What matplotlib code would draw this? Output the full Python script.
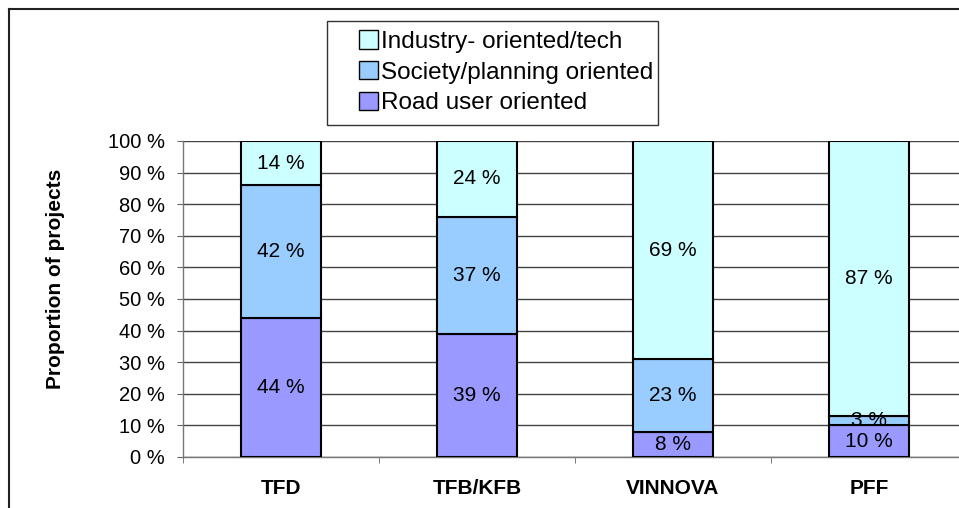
import numpy as np
import matplotlib.pyplot as plt
from matplotlib.lines import Line2D
from matplotlib.patches import Rectangle

plt.rcParams['font.family'] = ['Liberation Sans', 'DejaVu Sans']

categories = ['TFD', 'TFB/KFB', 'VINNOVA', 'PFF']
road = [44, 39, 8, 10]
society = [42, 37, 23, 3]
industry = [14, 24, 69, 87]
series_names = ['Road user oriented', 'Society/planning oriented', 'Industry- oriented/tech']
colors = ['#9999FF', '#99CCFF', '#CCFFFF']

W, H = 959, 508
fig = plt.figure(figsize=(W/100, H/100), dpi=100)
ax = fig.add_axes([183/W, 1-457/H, 784/W, 316/H])

x = np.arange(len(categories))
bottom = np.zeros(len(categories))
bars = []
for vals, name, c in zip([road, society, industry], series_names, colors):
    b = ax.bar(x, vals, 0.41, bottom=bottom, color=c, edgecolor='black',
               linewidth=1.5, label=name, zorder=3)
    for xi, v, bt in zip(x, vals, bottom):
        ax.text(xi, bt + v/2, f'{v} %', ha='center', va='center', fontsize=15, zorder=4)
    bottom += np.array(vals)
    bars.append(b)

ax.set_xlim(-0.5, 3.5)
ax.set_ylim(0, 100)
ax.set_yticks(np.arange(0, 101, 10))
ax.set_yticklabels([f'{v} %' for v in range(0, 101, 10)], fontsize=14.5)
ax.yaxis.grid(True, color='#444444', linewidth=1, zorder=0)
ax.set_xticks(x)
ax.set_xticklabels(categories, fontsize=15, fontweight='bold')
ax.set_xticks(np.arange(-0.5, 4, 1), minor=True)
ax.tick_params(axis='x', which='major', length=0, pad=15.5)
ax.tick_params(axis='x', which='minor', length=4, direction='out', color='#666666')
ax.tick_params(axis='y', length=4.3, direction='out', color='#666666', pad=9)
ax.set_ylabel('Proportion of projects', fontsize=15, fontweight='bold')
ax.yaxis.set_label_coords(-0.15, 0.565)
for s in ['top', 'right']:
    ax.spines[s].set_visible(False)
for s in ['left', 'bottom']:
    ax.spines[s].set_color('#777777')
    ax.spines[s].set_linewidth(1)

leg = fig.legend([bars[2], bars[1], bars[0]],
                 [series_names[2], series_names[1], series_names[0]],
                 loc='upper left', bbox_to_anchor=(359/W, 1-30/H),
                 fontsize=17.5, frameon=False, borderpad=0, borderaxespad=0,
                 handlelength=0.8, handleheight=0.8, handletextpad=0.1,
                 labelspacing=0.33)
for h in leg.legend_handles:
    h.set_linewidth(1)
fig.add_artist(Rectangle((327/W, 1-125/H), 331/W, 104/H, transform=fig.transFigure,
                         fill=False, edgecolor='#333333', linewidth=1))

# outer chart frame
fig.add_artist(Line2D([9/W, 9/W], [0, 1-9/H], color='#222222', linewidth=1.5))
fig.add_artist(Line2D([9/W, 1], [1-9/H, 1-9/H], color='#222222', linewidth=1.5))

plt.savefig('out.png', dpi=100)
